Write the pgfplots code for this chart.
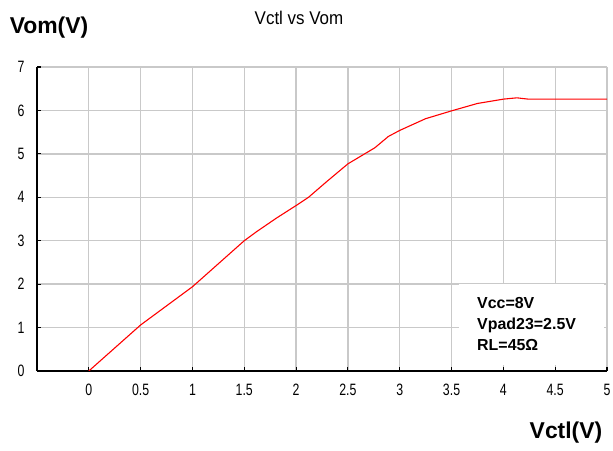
\documentclass[border=0pt]{standalone}
\usepackage{fontspec}
\setmainfont{Liberation Sans}
\newfontfamily\narrowfont[FakeStretch=0.75]{Liberation Sans}
\newfontfamily\titlefont[FakeStretch=0.92]{Liberation Sans}
\usepackage{pgfplots}
\pgfplotsset{compat=1.18}
\begin{document}
\begin{tikzpicture}
\path[use as bounding box] (0,0) rectangle (613bp,451bp);
\begin{axis}[
  scale only axis, width=570bp, height=304bp,
  at={(37bp,80bp)}, anchor=south west,
  xmin=-0.5, xmax=5, ymin=0, ymax=7,
  xtick={0,0.5,1,1.5,2,2.5,3,3.5,4,4.5,5},
  ytick={0,1,2,3,4,5,6,7},
  xticklabels={0,0.5,1,1.5,2,2.5,3,3.5,4,4.5,5},
  grid=major, grid style={draw=gray!42, line width=1.3bp},
  axis x line*=bottom, axis y line*=left,
  axis line style={black, line width=1.3bp},
  tick style={black, line width=1.1bp},
  tick align=inside, major tick length=4bp,
  /pgf/number format/assume math mode=true,
  ticklabel style={font=\narrowfont\fontsize{16.5}{16.5}\selectfont},
  xticklabel style={yshift=-10bp},
  yticklabel style={xshift=-9bp},
]
\addplot[red, line width=1.1bp] coordinates {
(0,0) (0.5,1.06) (0.75,1.5) (1,1.94) (1.25,2.47) (1.5,3.0) (1.62,3.21)
(1.81,3.52) (2.0,3.81) (2.12,4.0) (2.29,4.35) (2.5,4.77) (2.76,5.14)
(2.89,5.40) (3.0,5.54) (3.25,5.81) (3.5,5.99) (3.75,6.16) (4.0,6.26)
(4.13,6.29) (4.24,6.26) (5.0,6.26)
};
\end{axis}
\fill[white] (459bp,86bp) rectangle (604bp,167bp);
\node[anchor=west, align=left, inner sep=0, font=\bfseries\fontsize{16}{21}\selectfont] at (477bp,127bp) {Vcc=8V\\Vpad23=2.5V\\RL=45Ω};
\node[font=\titlefont\fontsize{18.5}{18.5}\selectfont, inner sep=0] at (299bp,433bp) {Vctl vs Vom};
\node[font=\bfseries\fontsize{23}{23}\selectfont, inner sep=0] at (49bp,423bp) {Vom(V)};
\node[font=\bfseries\fontsize{23}{23}\selectfont, inner sep=0] at (566bp,18bp) {Vctl(V)};
\end{tikzpicture}
\end{document}
